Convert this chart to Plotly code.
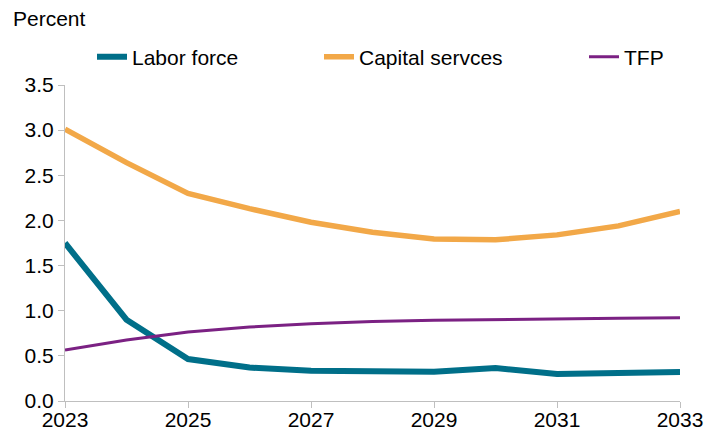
import plotly.graph_objects as go

years = list(range(2023, 2034))
labor_force = [1.75, 0.90, 0.465, 0.37, 0.335, 0.33, 0.325, 0.365, 0.30, 0.31, 0.32]
capital_services = [3.01, 2.64, 2.30, 2.13, 1.98, 1.87, 1.795, 1.785, 1.84, 1.94, 2.10]
tfp = [0.565, 0.675, 0.765, 0.82, 0.855, 0.88, 0.893, 0.903, 0.91, 0.917, 0.922]
series_names = ["Labor force", "Capital servces", "TFP"]
x_ticks = [2023, 2025, 2027, 2029, 2031, 2033]

FONT = "Liberation Sans, Arial, sans-serif"
FS = 21
W, H = 719, 430
ML, MR, MT, MB = 65, 39, 85, 29

fig = go.Figure()
fig.add_trace(go.Scatter(x=years, y=labor_force, mode="lines", name=series_names[0],
                         line=dict(color="#006F89", width=6), legend="legend"))
fig.add_trace(go.Scatter(x=years, y=capital_services, mode="lines", name=series_names[1],
                         line=dict(color="#F2A848", width=5.5), legend="legend2"))
fig.add_trace(go.Scatter(x=years, y=tfp, mode="lines", name=series_names[2],
                         line=dict(color="#7B2183", width=3), legend="legend3"))

def px_x(p):
    return (p - ML) / (W - ML - MR)

def px_y(p):
    return (H - MB - p) / (H - MT - MB)

leg_common = dict(orientation="h", xanchor="left", yanchor="middle",
                  font=dict(family=FONT, size=FS, color="#000000"),
                  bgcolor="rgba(0,0,0,0)", borderwidth=0, itemwidth=30,
                  visible=True)

fig.update_layout(
    width=W, height=H,
    showlegend=True,
    margin=dict(l=ML, r=MR, t=MT, b=MB, autoexpand=False),
    paper_bgcolor="white", plot_bgcolor="white",
    font=dict(family=FONT, size=FS, color="#000000"),
    legend=dict(x=px_x(92), y=px_y(57), **leg_common),
    legend2=dict(x=px_x(319), y=px_y(57), **leg_common),
    legend3=dict(x=px_x(584), y=px_y(57), **leg_common),
    xaxis=dict(range=[2023, 2033], tickmode="array", tickvals=x_ticks,
               ticktext=[str(v) for v in x_ticks], automargin=False,
               showgrid=False, zeroline=False, showline=True, linecolor="#BFBFBF",
               linewidth=1, ticks="outside", ticklen=6, tickcolor="#BFBFBF",
               ticklabelstandoff=-6,
               tickfont=dict(family=FONT, size=FS, color="#000000")),
    yaxis=dict(range=[0, 3.5], dtick=0.5, tick0=0, tickformat=".1f", automargin=False,
               showgrid=False, zeroline=False, showline=True, linecolor="#BFBFBF",
               linewidth=1, ticks="outside", ticklen=6, tickcolor="#BFBFBF",
               tickfont=dict(family=FONT, size=FS, color="#000000")),
    annotations=[dict(text="Percent", xref="paper", yref="paper",
                      x=px_x(11), y=px_y(18), xanchor="left", yanchor="middle",
                      showarrow=False, font=dict(family=FONT, size=FS, color="#000000"))],
)

fig.write_html("out.html")
